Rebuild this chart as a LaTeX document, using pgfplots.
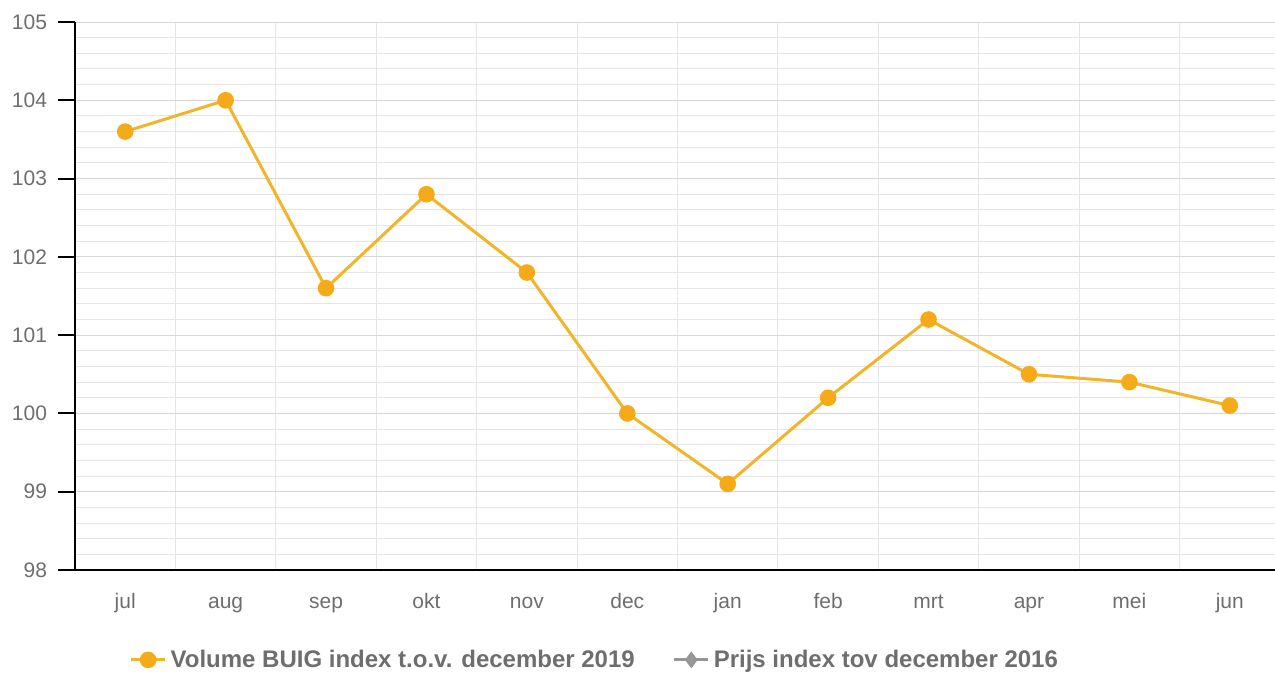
\documentclass[border=0pt]{standalone}
\usepackage{pgfplots}
\pgfplotsset{compat=1.18}
\usepackage{fontspec}
\setmainfont{Liberation Sans}
\definecolor{lineor}{RGB}{242,180,40}
\definecolor{markor}{RGB}{245,170,25}
\definecolor{txtgray}{RGB}{110,110,110}
\definecolor{gridmaj}{RGB}{215,215,215}
\definecolor{gridmin}{RGB}{230,230,230}
\definecolor{legray}{RGB}{150,150,150}
\begin{document}
\begin{tikzpicture}
\useasboundingbox (0,0) rectangle (637.5pt,337.5pt);
\begin{axis}[
  at={(37.5pt,52.5pt)}, anchor=south west,
  scale only axis, width=600pt, height=274pt,
  xmin=-0.5, xmax=11.45, ymin=98, ymax=105,
  axis x line*=bottom, axis y line*=left,
  axis line style={black, line width=1pt, -},
  xtick={0,...,11},
  xticklabels={jul,aug,sep,okt,nov,dec,jan,feb,mrt,apr,mei,jun},
  minor xtick={0.5,1.5,...,10.5},
  xtick style={draw=none},
  ytick={98,...,105},
  minor y tick num=4,
  ymajorgrids, yminorgrids, xminorgrids,
  major grid style={gridmaj, line width=0.5pt},
  minor grid style={gridmin, line width=0.5pt},
  minor tick length=0pt,
  major tick length=8.5pt,
  tick align=outside,
  ytick style={black, line width=1pt},
  tick label style={font=\fontsize{10.5}{12}\selectfont, text=txtgray},
  yticklabel style={xshift=-2pt},
  xticklabel style={text height=1.6ex, text depth=0.4ex, yshift=1pt},
  /pgf/number format/assume math mode=true,
  legend style={draw=none, fill=none, at={(0.434,-0.164)}, anchor=center,
    font=\bfseries\fontsize{12}{14}\selectfont, text=txtgray,
    /tikz/every even column/.append style={column sep=17pt}},
  legend columns=2,
  legend image code/.code={
    \draw[#1] (0pt,0pt) -- (17pt,0pt);
    \draw[#1, mark repeat=2, mark phase=2] plot coordinates {(0pt,0pt) (8.5pt,0pt) (17pt,0pt)};
  },
]
\addplot[lineor, line width=1.5pt, mark=*, mark size=3.4pt,
  mark options={fill=markor, draw=markor}]
  coordinates {(0,103.6) (1,104.0) (2,101.6) (3,102.8) (4,101.8) (5,100.0)
  (6,99.1) (7,100.2) (8,101.2) (9,100.5) (10,100.4) (11,100.1)};
\addlegendentry{Volume BUIG index t.o.v. december 2019}
\addlegendimage{legray, line width=1.5pt, mark=diamond*, mark size=3pt, mark options={fill=legray}}
\addlegendentry{Prijs index tov december 2016}
\end{axis}
\end{tikzpicture}
\end{document}
